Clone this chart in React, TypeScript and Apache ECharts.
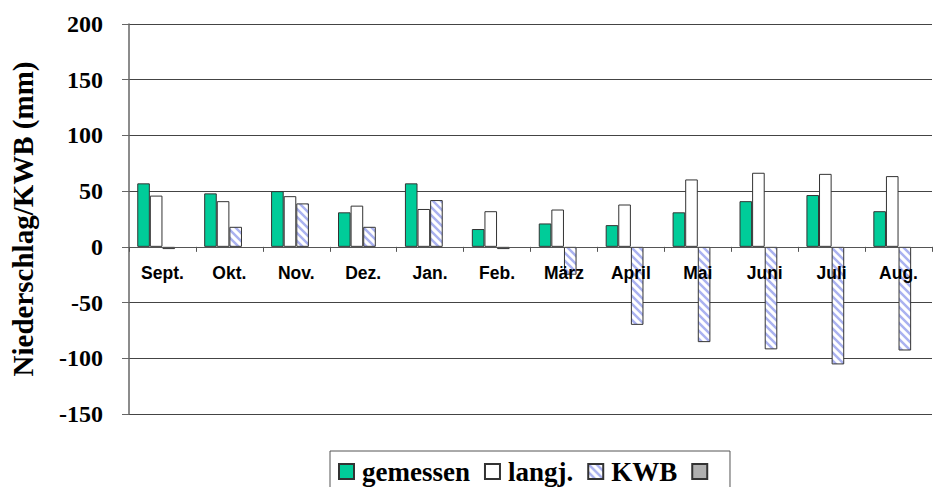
import React, { useEffect, useRef } from "react";
import * as echarts from "echarts";

const categories = ["Sept.", "Okt.", "Nov.", "Dez.", "Jan.", "Feb.", "März", "April", "Mai", "Juni", "Juli", "Aug."];
const gemessen = [57, 48, 50, 31, 57, 16, 21, 19.5, 31, 41, 46.5, 32];
const langj = [46, 41, 45.5, 37, 34, 32, 33.5, 38, 60.5, 66.5, 65.5, 63.5];
const kwb = [-2, 18, 39, 18, 42, -2, -25, -70, -85.5, -92, -105.5, -93];
const leer: (number | null)[] = [null, null, null, null, null, null, null, null, null, null, null, null];
const yTicks = { min: -150, max: 200, interval: 50 };

const GRID_TOP = 24;
const GRID_BOTTOM = 73;
const HEIGHT = 487;
const SERIF = "'Liberation Serif', 'Times New Roman', serif";

function makePattern(): HTMLCanvasElement {
  const c = document.createElement("canvas");
  c.width = 8;
  c.height = 8;
  const ctx = c.getContext("2d")!;
  ctx.fillStyle = "#ffffff";
  ctx.fillRect(0, 0, 8, 8);
  ctx.strokeStyle = "#aab2f0";
  ctx.lineWidth = 2.5;
  ctx.beginPath();
  ctx.moveTo(-2, -2);
  ctx.lineTo(10, 10);
  ctx.moveTo(-2, 6);
  ctx.lineTo(2, 10);
  ctx.moveTo(6, -2);
  ctx.lineTo(10, 2);
  ctx.stroke();
  return c;
}

export default function App() {
  const ref = useRef<HTMLDivElement>(null);
  useEffect(() => {
    if (!ref.current) return;
    const chart = echarts.init(ref.current, undefined, { renderer: "svg" });
    const pattern = makePattern();
    const border = { borderColor: "#333333", borderWidth: 1 };
    const gridH = HEIGHT - GRID_TOP - GRID_BOTTOM;
    const zeroOffset = -(gridH * (0 - yTicks.min)) / (yTicks.max - yTicks.min);
    chart.setOption({
      animation: false,
      backgroundColor: "#ffffff",
      grid: { left: 124, right: 1, top: GRID_TOP, bottom: GRID_BOTTOM, containLabel: false },
      legend: {
        left: 330,
        top: 451,
        orient: "horizontal",
        padding: [7, 8, 14, 8],
        itemGap: 14,
        itemWidth: 15,
        itemHeight: 15,
        borderColor: "#555555",
        borderWidth: 1,
        icon: "rect",
        textStyle: { fontFamily: SERIF, fontWeight: "bold", fontSize: 27, color: "#000", padding: [0, 0, 0, 3] },
        data: ["gemessen", "langj.", "KWB", " "],
      },
      xAxis: {
        type: "category",
        data: categories,
        z: 10,
        position: "bottom",
        offset: zeroOffset,
        axisLine: { onZero: false, lineStyle: { color: "#555555", width: 1 } },
        axisTick: { show: true, length: 5, lineStyle: { color: "#555555" } },
        axisLabel: { fontFamily: "'Liberation Sans', Arial, sans-serif", fontWeight: "bold", fontSize: 17.5, color: "#000", margin: 17 },
      },
      yAxis: {
        type: "value",
        min: yTicks.min,
        max: yTicks.max,
        interval: yTicks.interval,
        name: "Niederschlag/KWB (mm)",
        nameLocation: "middle",
        nameGap: 92,
        nameTextStyle: { fontFamily: SERIF, fontWeight: "bold", fontSize: 29, color: "#000" },
        axisLine: { show: true, lineStyle: { color: "#666666", width: 1.5 } },
        axisTick: { show: true, length: 7, lineStyle: { color: "#666666" } },
        axisLabel: { fontFamily: SERIF, fontWeight: "bold", fontSize: 24, color: "#000", margin: 26 },
        splitLine: { show: true, lineStyle: { color: "#444444", width: 1 } },
      },
      series: [
        { name: "gemessen", type: "bar", data: gemessen, barWidth: 12.6, barGap: "0%", itemStyle: { color: "#00cc99", ...border } },
        { name: "langj.", type: "bar", data: langj, barWidth: 12.6, barGap: "0%", itemStyle: { color: "#ffffff", ...border } },
        { name: "KWB", type: "bar", data: kwb, barWidth: 12.6, barGap: "0%", itemStyle: { color: { image: pattern, repeat: "repeat" }, ...border } },
        { name: " ", type: "bar", data: leer, barWidth: 12.6, barGap: "0%", itemStyle: { color: "#b0b0b0", ...border } },
      ],
    });
    return () => chart.dispose();
  }, []);
  return <div ref={ref} style={{ position: "fixed", left: 0, top: 0, width: 933, height: 487 }} />;
}
